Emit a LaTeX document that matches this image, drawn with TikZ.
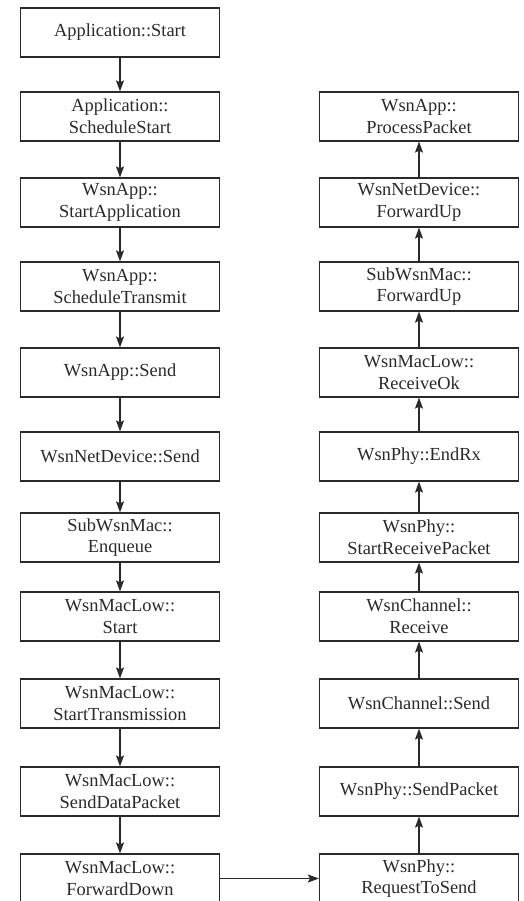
\documentclass[tikz,border=0pt]{standalone}
\usepackage{fontspec}
\setmainfont{Liberation Serif}
\usetikzlibrary{arrows.meta}
\definecolor{ink}{HTML}{2A2A2A}
\tikzset{
  x=1pt,y=-1pt,
  fbox/.style={draw=ink,line width=1.2pt,minimum width=199pt,minimum height=49pt,
    inner sep=0pt,align=center,text=ink,font=\fontsize{18.4}{21.7}\selectfont},
  flow/.style={draw=ink,line width=1.2pt,-{Stealth[length=11pt,width=8pt,inset=2pt]}}
}
\begin{document}
\begin{tikzpicture}
\useasboundingbox (0,0) rectangle (524,901);
\clip (0,0) rectangle (524,901);
\fill[white] (0,0) rectangle (524,901);
% left column
\node[fbox] (l1) at (120,32.5) {Application::Start};
\node[fbox] (l2) at (120,116.5) {Application::\\ScheduleStart};
\node[fbox] (l3) at (120,202.5) {WsnApp::\\StartApplication};
\node[fbox] (l4) at (120,286.5) {WsnApp::\\ScheduleTransmit};
\node[fbox] (l5) at (120,372.5) {WsnApp::Send};
\node[fbox] (l6) at (120,456.5) {WsnNetDevice::Send};
\node[fbox] (l7) at (120,537.5) {SubWsnMac::\\Enqueue};
\node[fbox] (l8) at (120,616.5) {WsnMacLow::\\Start};
\node[fbox] (l9) at (120,703.5) {WsnMacLow::\\StartTransmission};
\node[fbox] (l10) at (120,791.5) {WsnMacLow::\\SendDataPacket};
\node[fbox] (l11) at (120,878.5) {WsnMacLow::\\ForwardDown};
% right column
\node[fbox] (r1) at (419,116.5) {WsnApp::\\ProcessPacket};
\node[fbox] (r2) at (419,202.5) {WsnNetDevice::\\ForwardUp};
\node[fbox] (r3) at (419,286.5) {SubWsnMac::\\ForwardUp};
\node[fbox] (r4) at (419,372.5) {WsnMacLow::\\ReceiveOk};
\node[fbox] (r5) at (419,456.5) {WsnPhy::EndRx};
\node[fbox] (r6) at (419,537.5) {WsnPhy::\\StartReceivePacket};
\node[fbox] (r7) at (419,616.5) {WsnChannel::\\Receive};
\node[fbox] (r8) at (419,703.5) {WsnChannel::Send};
\node[fbox] (r9) at (419,791.5) {WsnPhy::SendPacket};
\node[fbox] (r10) at (419,878.5) {WsnPhy::\\RequestToSend};
% arrows
\foreach \a/\b in {l1/l2,l2/l3,l3/l4,l4/l5,l5/l6,l6/l7,l7/l8,l8/l9,l9/l10,l10/l11}
  \draw[flow] (\a.south) -- (\b.north);
\foreach \a/\b in {r10/r9,r9/r8,r8/r7,r7/r6,r6/r5,r5/r4,r4/r3,r3/r2,r2/r1}
  \draw[flow] (\a.north) -- (\b.south);
\draw[flow] (l11.east) -- (r10.west);
\end{tikzpicture}
\end{document}
